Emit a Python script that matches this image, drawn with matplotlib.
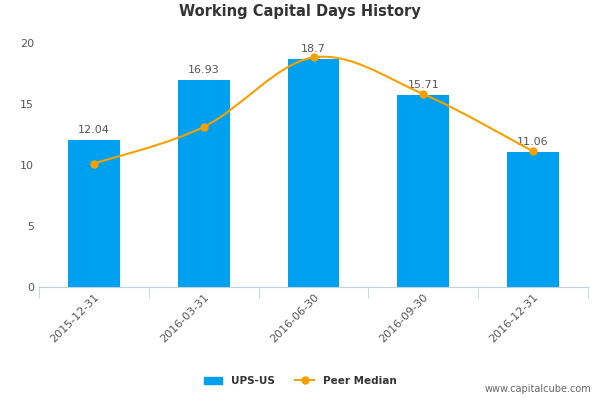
import matplotlib.pyplot as plt
from matplotlib.path import Path
from matplotlib.patches import PathPatch

dates = ['2015-12-31', '2016-03-31', '2016-06-30', '2016-09-30', '2016-12-31']
ups = [12.04, 16.93, 18.7, 15.71, 11.06]
peer = [10.1, 13.1, 18.8, 15.8, 11.1]

fig = plt.figure(figsize=(6, 4), dpi=100)
ax = fig.add_axes([0.065, 0.283, 0.915, 0.61])
x = list(range(len(dates)))
ax.bar(x, ups, width=0.47, color='#00a0f0', zorder=2)
for xi, v in zip(x, ups):
    ax.text(xi, v + 0.4, f'{v:g}', ha='center', va='bottom', fontsize=8, color='#555555')

# smooth line through peer points (Catmull-Rom as bezier)
verts = [(x[0], peer[0])]
codes = [Path.MOVETO]
pts = list(zip(x, peer))
for i in range(len(pts) - 1):
    p0 = pts[i - 1] if i > 0 else pts[i]
    p1, p2 = pts[i], pts[i + 1]
    p3 = pts[i + 2] if i + 2 < len(pts) else pts[i + 1]
    c1 = (p1[0] + (p2[0] - p0[0]) / 6, p1[1] + (p2[1] - p0[1]) / 6)
    c2 = (p2[0] - (p3[0] - p1[0]) / 6, p2[1] - (p3[1] - p1[1]) / 6)
    verts += [c1, c2, p2]
    codes += [Path.CURVE4] * 3
ax.add_patch(PathPatch(Path(verts, codes), fill=False, edgecolor='#f5a000', lw=1.5, zorder=3))
ax.plot(x, peer, 'o', color='#f5a000', ms=5, zorder=4)

ax.set_xlim(-0.5, 4.5)
ax.set_ylim(0, 20)
ax.set_yticks([0, 5, 10, 15, 20])
ax.set_xticks(x)
ax.set_xticklabels(dates, rotation=45, ha='right', rotation_mode='anchor')
ax.tick_params(labelsize=8, colors='#555555', length=0)
ax.tick_params(axis='x', length=8, color='#c0d0e0', pad=4)
ax.set_xticks([-0.5 + i for i in range(6)], minor=True)
ax.tick_params(axis='x', which='minor', length=8, color='#c0d0e0')
ax.tick_params(axis='x', which='major', length=0)
for s in ['top', 'right', 'left']:
    ax.spines[s].set_visible(False)
ax.spines['bottom'].set_color('#c0d0e0')
fig.text(0.5, 0.96, 'Working Capital Days History', ha='center', fontsize=10.5,
         fontweight='bold', color='#333333')

from matplotlib.patches import Patch
from matplotlib.lines import Line2D
handles = [Patch(color='#00a0f0', label='UPS-US'),
           Line2D([], [], color='#f5a000', marker='o', ms=5, label='Peer Median')]
leg = fig.legend(handles=handles, loc='center', bbox_to_anchor=(0.5, 0.048), ncol=2,
                 frameon=False, fontsize=7.5, handlelength=1.8, columnspacing=2)
for t in leg.get_texts():
    t.set_fontweight('bold'); t.set_color('#333333')
fig.text(0.985, 0.02, 'www.capitalcube.com', ha='right', fontsize=7, color='#666666')
fig.savefig('out.png', dpi=100)
